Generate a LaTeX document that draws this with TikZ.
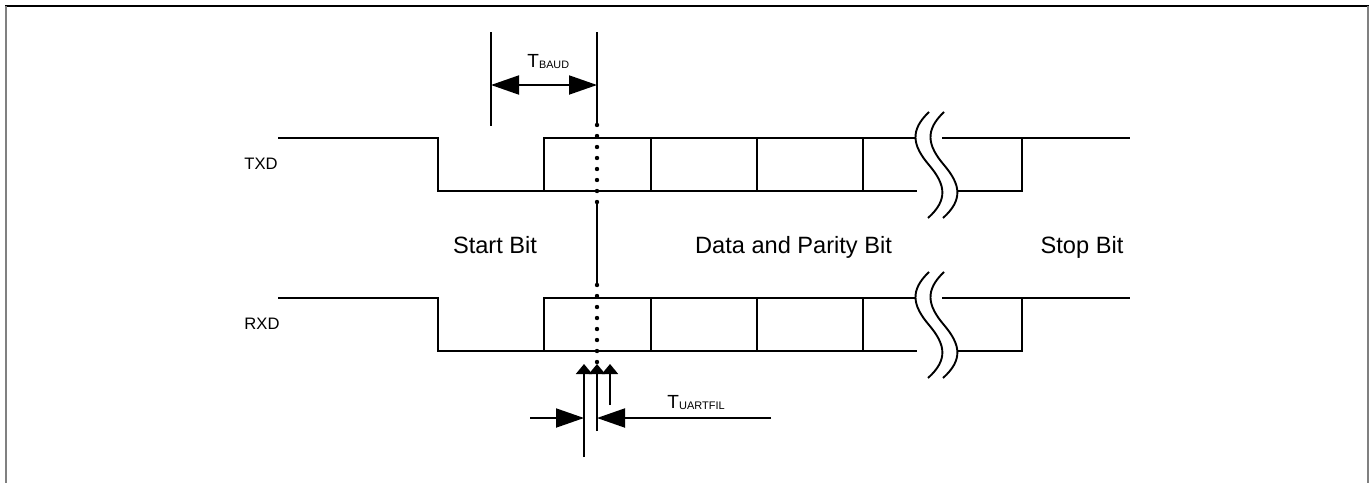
\documentclass[tikz,border=0pt]{standalone}
\usepackage{fontspec}
\setmainfont{Liberation Sans}
\usetikzlibrary{arrows.meta}
\begin{document}
\begin{tikzpicture}[x=1pt,y=-1pt,line width=1.9pt,line join=miter,
  bigtip/.style={-{Triangle[length=28pt,width=19pt]}},
  uptip/.style={-{Triangle[length=10pt,width=16pt]}},
  lbl/.style={inner sep=0pt,anchor=base,font=\fontsize{23.6}{28}\selectfont},
  siglbl/.style={inner sep=0pt,anchor=base west,font=\fontsize{16.6}{20}\selectfont},
  tlbl/.style={inner sep=0pt,anchor=base west,font=\fontsize{19}{22}\selectfont}]
\useasboundingbox (0,0) rectangle (1370,482);
% frame
\draw[line width=2pt,black] (5,6) -- (1369,6);
\draw[line width=2pt,gray] (6,6) -- (6,483);
\draw[line width=2pt,gray] (1368,6) -- (1368,483);
% signals
\foreach \dy/\nm in {0/TXD,160/RXD}{
\begin{scope}[yshift=-\dy pt]
  \coordinate (hi0) at (278,138);
  \coordinate (fall) at (438,138);
  \draw (hi0) -- (fall) -- (438,191) -- (917,191);
  \draw (544,191) -- (544,138) -- (916,138);
  \foreach \x in {651,757,863} \draw (\x,138) -- (\x,191);
  \draw (942,138) -- (1130,138);
  \draw (957,191) -- (1022,191) -- (1022,138);
  \foreach \s in {0,15}{
    \draw[xshift=\s pt] (929,112) .. controls (910,130) and (912,145) .. (929,165)
       .. controls (946,185) and (948,200) .. (928,218);
  }
  \node[siglbl] (\nm) at (243.5,169) {\nm};
\end{scope}
}
% vertical reference line with dots
\coordinate (vt) at (597,32);
\coordinate (va) at (597,125);
\coordinate (vb) at (597,203);
\coordinate (vc) at (597,285);
\draw (vt) -- (va);
\draw (vb) -- (vc);
\foreach \i in {0,...,7}{
  \fill (597,125+11*\i) circle (2.2);
  \fill (597,285+11*\i) circle (2.2);
}
% T_BAUD
\coordinate (bt) at (491,32);
\coordinate (bb) at (491,126);
\draw (bt) -- (bb);
\coordinate (bl) at (491,85);
\coordinate (br) at (597,85);
\draw[{Triangle[length=28pt,width=19pt]}-{Triangle[length=28pt,width=19pt]}] (bl) -- (br);
\node[tlbl] (tbaud) at (526.5,67) {T\raisebox{-1.5pt}{\fontsize{10.8}{12}\selectfont BAUD}};
% labels
\node[lbl] (start) at (495,253) {Start Bit};
\node[lbl] (data) at (793.5,253) {Data and Parity Bit};
\node[lbl] (stop) at (1082,253) {Stop Bit};
% filter arrows
\coordinate (u1) at (584,457);
\coordinate (u2) at (597,431);
\coordinate (u3) at (610,405);
\draw[uptip] (u1) -- (584,364);
\draw[uptip] (u2) -- (597,364);
\draw[uptip] (u3) -- (610,364);
\coordinate (hl) at (530,418);
\coordinate (hlt) at (584,418);
\coordinate (hr) at (771,418);
\coordinate (hrt) at (597,418);
\draw[bigtip] (hl) -- (hlt);
\draw[bigtip] (hr) -- (hrt);
\node[tlbl] (tuart) at (666.5,408) {T\raisebox{-1.5pt}{\fontsize{11}{12}\selectfont UARTFIL}};
\end{tikzpicture}
\end{document}
